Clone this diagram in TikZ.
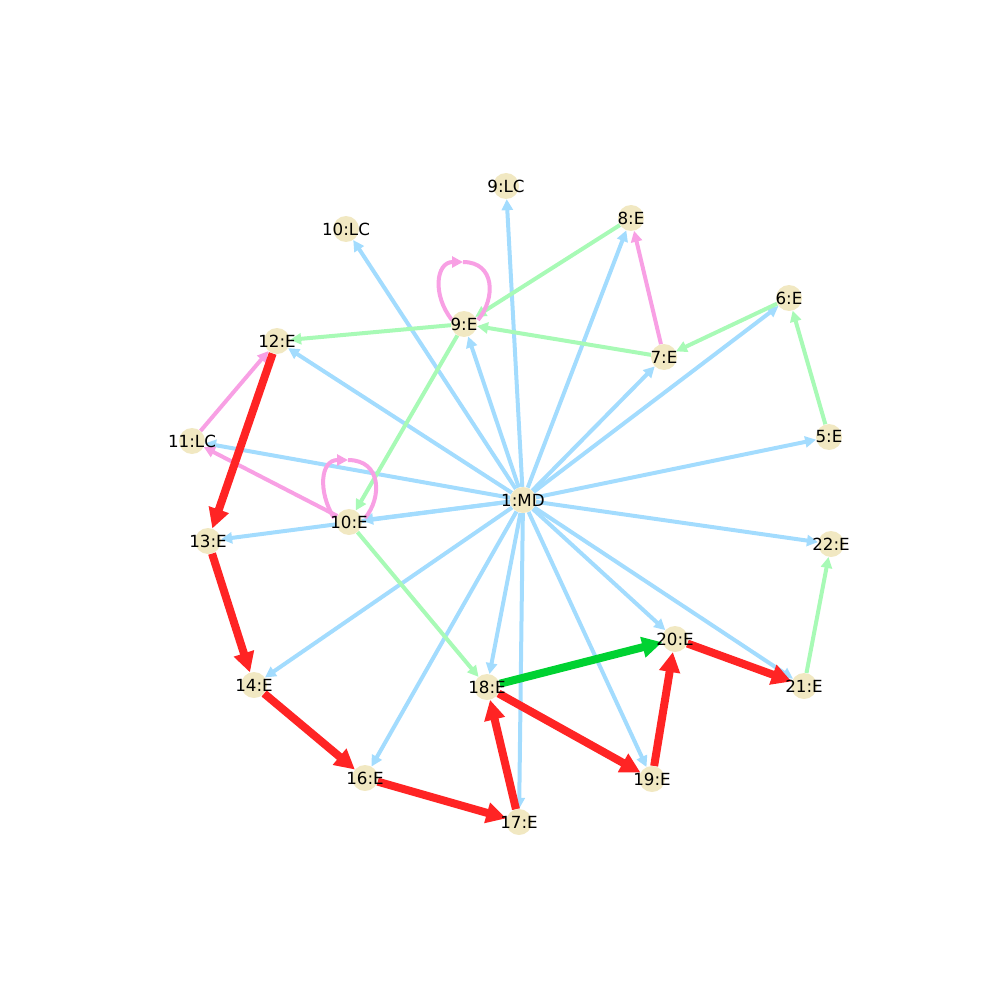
\documentclass[tikz,border=0pt]{standalone}
\usepackage{fontspec}
\setmainfont{DejaVu Sans}
\usetikzlibrary{arrows.meta}
\pgfdeclarelayer{bg}
\pgfsetlayers{bg,main}
\definecolor{eblue}{RGB}{163,220,254}
\definecolor{egreen}{RGB}{168,250,182}
\definecolor{epink}{RGB}{248,160,228}
\definecolor{ered}{RGB}{255,36,36}
\definecolor{edgreen}{RGB}{0,210,50}
\definecolor{nfill}{RGB}{241,232,194}
\tikzset{
  vtx/.style={circle,fill=nfill,minimum size=26pt,inner sep=0pt},
  lbl/.style={font=\fontsize{16.7}{18}\selectfont,text=black,inner sep=0pt},
  thin/.style={line width=4pt,-{Triangle[length=11pt,width=11pt]}},
  thick/.style={line width=8pt,-{Triangle[length=20pt,width=20pt]}},
  bedge/.style={thin,draw=eblue},
  gedge/.style={thin,draw=egreen},
  pedge/.style={thin,draw=epink},
  redge/.style={thick,draw=ered},
  dgedge/.style={thick,draw=edgreen},
  loopl/.style={line width=4pt,draw=epink,-{Triangle[length=11pt,width=11pt]}},
  loopr/.style={line width=4pt,draw=epink}
}
\begin{document}
\begin{tikzpicture}[x=1pt,y=-1pt]
\useasboundingbox (0,0) rectangle (1000,1000);
\foreach \n/\x/\y in {a1/523/500, lc9/506/186, lc10/346/229, e8/631/218, e6/789/298,
  e9/464/324, e12/277/341, e7/664/357, e5/829/437, lc11/192/441, e10/349/522,
  e13/208/541, e22/831/544, e20/675/639, e14/254/685, e18/487/687, e21/804/686,
  e16/365/778, e19/652/779, e17/519/822}
  {\node[vtx] (\n) at (\x,\y) {};}
\begin{pgfonlayer}{bg}
% blue edges from 1:MD
\foreach \t in {lc9,lc10,e8,e6,e9,e12,e7,e5,lc11,e10,e13,e22,e20,e21,e19,e17,e18,e16,e14}
  {\draw[bedge] (a1) -- (\t);}
% light green
\draw[gedge] (e8) -- (e9);
\draw[gedge] (e7) -- (e9);
\draw[gedge] (e9) -- (e12);
\draw[gedge] (e9) -- (e10);
\draw[gedge] (e6) -- (e7);
\draw[gedge] (e5) -- (e6);
\draw[gedge] (e21) -- (e22);
\draw[gedge] (e10) -- (e18);
% pink
\draw[pedge] (e7) -- (e8);
\draw[pedge] (lc11) -- (e12);
\draw[pedge] (e10) -- (lc11);
% self loops
\coordinate (l9a) at (452,320);
\coordinate (l9t) at (463,262);
\coordinate (l9b) at (478,320);
\draw[loopl] (l9a) .. controls (432,295) and (436,262) .. (l9t);
\draw[loopr] (l9t) .. controls (495,262) and (496,298) .. (l9b);
\coordinate (l10a) at (334,518);
\coordinate (l10t) at (348,460);
\coordinate (l10b) at (365,518);
\draw[loopl] (l10a) .. controls (318,492) and (320,460) .. (l10t);
\draw[loopr] (l10t) .. controls (382,460) and (382,498) .. (l10b);
% red
\draw[redge] (e12) -- (e13);
\draw[redge] (e13) -- (e14);
\draw[redge] (e14) -- (e16);
\draw[redge] (e16) -- (e17);
\draw[redge] (e17) -- (e18);
\draw[redge] (e18) -- (e19);
\draw[redge] (e19) -- (e20);
\draw[redge] (e20) -- (e21);
% dark green
\draw[dgedge] (e18) -- (e20);
\end{pgfonlayer}
\foreach \n/\t in {a1/1:MD, lc9/9:LC, lc10/10:LC, e8/8:E, e6/6:E, e9/9:E, e12/12:E,
  e7/7:E, e5/5:E, lc11/11:LC, e10/10:E, e13/13:E, e22/22:E, e20/20:E, e14/14:E,
  e18/18:E, e21/21:E, e16/16:E, e19/19:E, e17/17:E}
  {\node[lbl] at (\n) {\t};}
\end{tikzpicture}
\end{document}
